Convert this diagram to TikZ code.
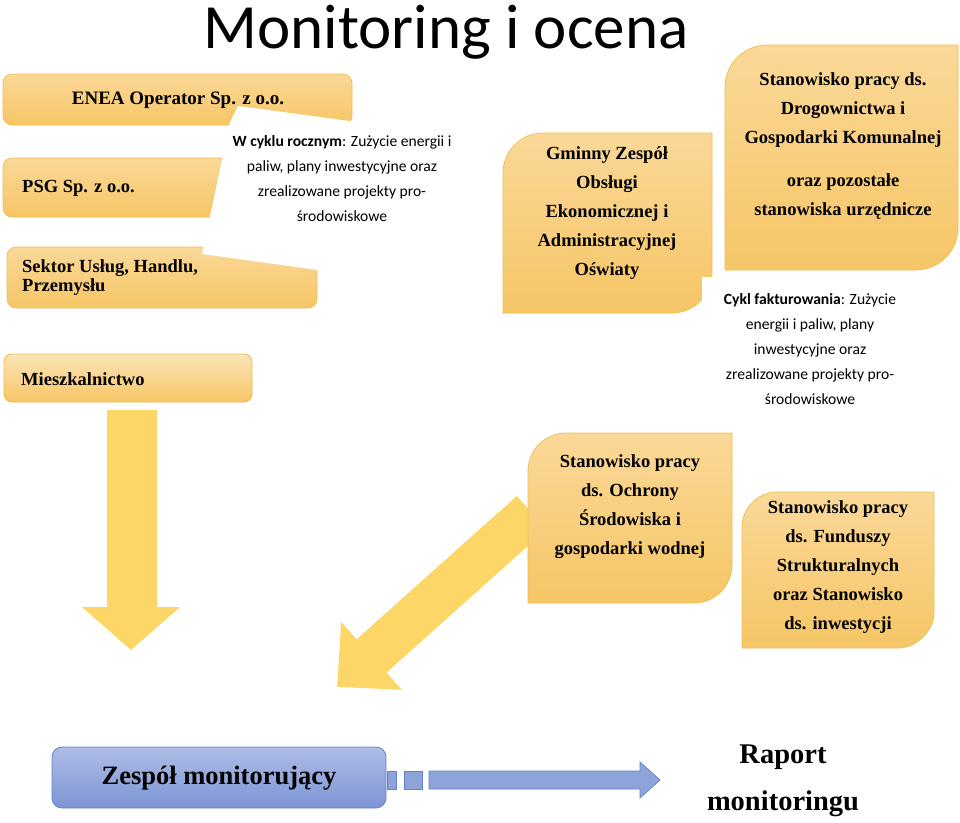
\documentclass[tikz,border=0pt]{standalone}
\usepackage{fontspec}
\setmainfont{Liberation Serif}
\newfontfamily\calfont{Carlito}
\definecolor{otop}{HTML}{FAD898}
\definecolor{obot}{HTML}{F6C666}
\definecolor{oline}{HTML}{F1BE52}
\definecolor{arrowy}{HTML}{FCD666}
\definecolor{btop}{HTML}{AEBDE6}
\definecolor{bbot}{HTML}{7D95D5}
\definecolor{bline}{HTML}{6482C8}
\definecolor{barrow}{HTML}{8FA3DB}
\tikzset{
  obox/.style={top color=otop, bottom color=obot, draw=oline, line width=0.7pt},
  yarrow/.style={fill=arrowy, draw=none},
  btxt/.style={font=\fontsize{18.5}{29}\selectfont\bfseries, align=center, inner sep=0pt},
  ltxt/.style={font=\fontsize{18.5}{19}\selectfont\bfseries, align=left, inner sep=0pt, anchor=west},
  ctxt/.style={font=\calfont\fontsize{15.6}{25}\selectfont, align=center, inner sep=0pt},
  bshape/.style={top color=btop, bottom color=bbot, draw=bline, line width=0.8pt},
  barrowst/.style={fill=barrow, draw=bline, line width=0.7pt},
}
\begin{document}
\begin{tikzpicture}[x=1pt,y=-1pt]
\useasboundingbox[fill=white] (0,0) rectangle (960,822);

% title
\node[font=\calfont\fontsize{63}{70}\selectfont, anchor=base, inner sep=0pt] (title) at (446,48) {Monitoring i ocena};

% left column boxes
\path[obox, rounded corners=9pt] (3,74) rectangle (352,125);
\path[obox, rounded corners=9pt] (3,158) rectangle (285,217);
\path[obox, rounded corners=9pt] (7,247) rectangle (317,308);
% white callout covering the boxes
\fill[white] (238,106) -- (372,124) -- (332,272) -- (202,254) -- (230,122) -- cycle;
\node[ctxt] (cal) at (342,179) {\textbf{W cyklu rocznym}: Zużycie energii i\\ paliw, plany inwestycyjne oraz\\ zrealizowane projekty pro-\\ środowiskowe};
\node[btxt, font=\fontsize{19}{29}\selectfont\bfseries] (enea) at (178,100) {ENEA Operator Sp. z o.o.};
\node[ltxt] (psg) at (22,188) {PSG Sp. z o.o.};
\node[ltxt] (sektor) at (22,278) {Sektor Usług, Handlu,\\ Przemysłu};

\path[top color=otop!70!white, bottom color=obot, draw=oline, line width=0.9pt, rounded corners=8pt] (4,354) rectangle (252,402);
\node[ltxt] (miesz) at (21,379) {Mieszkalnictwo};

% vertical arrow
\fill[yarrow] (107,410) -- (157,410) -- (157,607) -- (180,607) -- (131,650) -- (82,607) -- (107,607) -- cycle;

% Gminny box
\path[obox] (503,313) -- (503,173) .. controls (503,151) and (521,133) .. (543,133) -- (712,133) -- (712,273) .. controls (712,295) and (694,313) .. (672,313) -- cycle;
% white text box of the invoicing note
\fill[white] (702,277) rectangle (920,410);
\node[btxt] (gminny) at (607,213) {Gminny Zespół\\ Obsługi\\ Ekonomicznej i\\ Administracyjnej\\ Oświaty};

% Drogownictwa box
\path[obox] (725,270) -- (725,87) .. controls (725,64) and (744,45) .. (767,45) -- (958,45) -- (958,228) .. controls (958,251) and (939,270) .. (916,270) -- cycle;
\node[btxt] (drog) at (843,146) {Stanowisko pracy ds.\\ Drogownictwa i\\ Gospodarki Komunalnej\\[14pt] oraz pozostałe\\ stanowiska urzędnicze};

\node[ctxt] (cykl) at (810,349) {\textbf{Cykl fakturowania}: Zużycie\\ energii i paliw, plany\\ inwestycyjne oraz\\ zrealizowane projekty pro-\\ środowiskowe};

% diagonal arrow
\fill[yarrow] (546.6,529.2) -- (516.8,496) -- (356.6,639.4) -- (341.2,622.1) -- (337.2,686.7) -- (401.8,689.9) -- (386.4,672.6) -- cycle;

% Ochrony box
\path[obox] (528,603) -- (528,471) .. controls (528,450) and (545,433) .. (566,433) -- (732,433) -- (732,565) .. controls (732,586) and (715,603) .. (694,603) -- cycle;
\node[btxt] (ochr) at (630,507) {Stanowisko pracy\\ ds. Ochrony\\ Środowiska i\\ gospodarki wodnej};

% Fundusze box
\path[obox] (742,648) -- (742,527) .. controls (742,508) and (758,492) .. (777,492) -- (934,492) -- (934,613) .. controls (934,632) and (915,648) .. (899,648) -- cycle;
\node[btxt] (fund) at (838,567) {Stanowisko pracy\\ ds. Funduszy\\ Strukturalnych\\ oraz Stanowisko\\ ds. inwestycji};

% bottom row
\path[bshape, rounded corners=10pt] (52,747) rectangle (386,808);
\node[font=\fontsize{26.5}{30}\selectfont\bfseries, inner sep=0pt] (zespol) at (219,778) {Zespół monitorujący};
\path[barrowst] (387,771) rectangle (396,789);
\path[barrowst] (404,771) rectangle (422,789);
\path[barrowst] (429,771) -- (640,771) -- (640,762) -- (660,780) -- (640,798) -- (640,789) -- (429,789) -- cycle;
\node[font=\fontsize{28.5}{47}\selectfont\bfseries, align=center, inner sep=0pt] (raport) at (783,781) {Raport\\ monitoringu};
\end{tikzpicture}
\end{document}
